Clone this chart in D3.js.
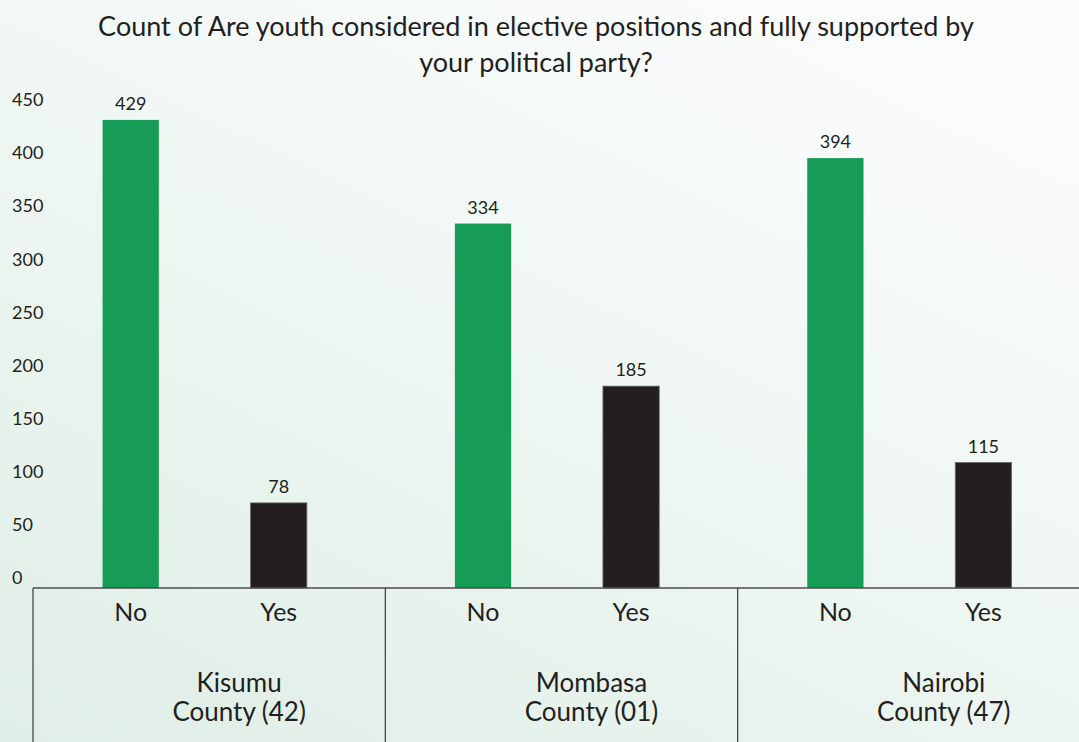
<!DOCTYPE html>
<html>
<head>
<meta charset="utf-8">
<script src="https://cdn.jsdelivr.net/npm/d3@7"></script>
<style>
  html, body { margin: 0; padding: 0; }
  body { width: 1079px; height: 742px; overflow: hidden; }
  svg { display: block; font-family: Lato, "Open Sans", sans-serif; }
</style>
</head>
<body>
<svg id="chart" width="1079" height="742"></svg>
<script>
// Survey counts per county: answers "No" / "Yes"
const counties = ["Kisumu County (42)", "Mombasa County (01)", "Nairobi County (47)"];
const answers = ["No", "Yes"];
const noCounts = [429, 334, 394];
const yesCounts = [78, 185, 115];
const yTicks = [0, 50, 100, 150, 200, 250, 300, 350, 400, 450];
const titleLines = ["Count of Are youth considered in elective positions and fully supported by",
                    "your political party?"];

const rows = [];
counties.forEach((c, i) => {
  rows.push({ county: c, answer: "No", value: noCounts[i] });
  rows.push({ county: c, answer: "Yes", value: yesCounts[i] });
});

const W = 1079, H = 742;
const svg = d3.select("#chart");

// soft diagonal background wash
const defs = svg.append("defs");
const grad = defs.append("linearGradient")
  .attr("id", "bg").attr("x1", "0%").attr("y1", "100%").attr("x2", "70%").attr("y2", "0%");
grad.append("stop").attr("offset", "0%").attr("stop-color", "#dfeee6");
grad.append("stop").attr("offset", "55%").attr("stop-color", "#eef6f2");
grad.append("stop").attr("offset", "100%").attr("stop-color", "#fafcfc");
svg.append("rect").attr("width", W).attr("height", H).attr("fill", "url(#bg)");

const baseY = 588;
const y = d3.scaleLinear().domain([0, 450]).range([baseY, 97]);
const x0 = d3.scaleBand().domain(counties).range([33, 1090]);
const x1 = d3.scaleBand().domain(answers).range([0, x0.bandwidth()])
  .paddingInner(0.62).paddingOuter(0.5).align(0.47);
const color = d3.scaleOrdinal().domain(answers).range(["#169c57", "#231f20"]);

// title
svg.append("g").selectAll("text").data(titleLines).join("text")
  .attr("x", 536).attr("y", (d, i) => 36 + i * 36)
  .attr("text-anchor", "middle")
  .attr("font-size", 27).attr("fill", "#231f20")
  .text(d => d);

// y axis: labels only, left aligned
const yLabelScale = y.copy().range([578, 100]);
const yAxis = svg.append("g").attr("transform", "translate(12,0)")
  .call(d3.axisLeft(yLabelScale).tickValues(yTicks).tickSize(0).tickPadding(0));
yAxis.select(".domain").remove();
yAxis.selectAll("text")
  .attr("text-anchor", "start").attr("x", 0)
  .attr("font-family", "Lato, 'Open Sans', sans-serif")
  .attr("font-size", 18).attr("fill", "#231f20");

// bars
const groups = svg.append("g").selectAll("g").data(rows).join("g")
  .attr("transform", d => `translate(${x0(d.county) + x1(d.answer)},0)`);

groups.append("rect")
  .attr("x", 0).attr("width", x1.bandwidth())
  .attr("y", d => y(d.value))
  .attr("height", d => baseY - y(d.value))
  .attr("fill", d => color(d.answer))
  .attr("stroke", d => d.answer === "Yes" ? "#666" : "none")
  .attr("stroke-width", 0.8);

groups.append("text")
  .attr("x", x1.bandwidth() / 2)
  .attr("y", d => y(d.value) - 10)
  .attr("text-anchor", "middle")
  .attr("font-size", 18).attr("fill", "#231f20")
  .text(d => d.value);

// category axis frame
const frame = svg.append("g");
frame.append("line")
  .attr("x1", 33).attr("x2", W).attr("y1", baseY).attr("y2", baseY)
  .attr("stroke", "#4d4d4d").attr("stroke-width", 1.6);
frame.selectAll("line.div").data(counties).join("line").attr("class", "div")
  .attr("x1", d => x0(d)).attr("x2", d => x0(d))
  .attr("y1", baseY).attr("y2", H)
  .attr("stroke", "#3a3a3a").attr("stroke-width", 1.2);

// answer labels
groups.append("text")
  .attr("x", x1.bandwidth() / 2)
  .attr("y", 621)
  .attr("text-anchor", "middle")
  .attr("font-size", 25).attr("fill", "#231f20")
  .text(d => d.answer);

// county labels, two lines
const cl = svg.append("g").selectAll("text").data(counties).join("text")
  .attr("text-anchor", "middle")
  .attr("font-size", 26).attr("fill", "#231f20");
cl.each(function (d) {
  const parts = [d.slice(0, d.indexOf(" ")), d.slice(d.indexOf(" ") + 1)];
  const cx = x0(d) + x0.bandwidth() / 2 + 30;
  d3.select(this).selectAll("tspan").data(parts).join("tspan")
    .attr("x", cx).attr("y", (p, i) => 692 + i * 29).text(p => p);
});
</script>
</body>
</html>
